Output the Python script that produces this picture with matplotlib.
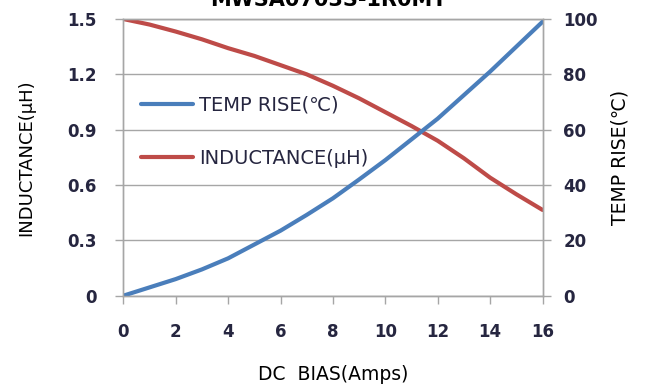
import numpy as np
import matplotlib
matplotlib.use('Agg')
import matplotlib.pyplot as plt

# data
dc_bias = [0, 1, 2, 3, 4, 5, 6, 7, 8, 9, 10, 11, 12, 13, 14, 15, 16]
temp_rise = [0, 3.0, 6.0, 9.5, 13.5, 18.5, 23.5, 29.2, 35.2, 42.0, 49.0,
             56.5, 64.0, 72.5, 81.0, 90.0, 99.0]
inductance = [1.5, 1.47, 1.432, 1.39, 1.342, 1.30, 1.25, 1.2, 1.138, 1.07,
              0.995, 0.92, 0.84, 0.745, 0.64, 0.55, 0.465]
x_ticks = [0, 2, 4, 6, 8, 10, 12, 14, 16]
ind_ticks = [0, 0.3, 0.6, 0.9, 1.2, 1.5]
ind_labels = ['0', '0.3', '0.6', '0.9', '1.2', '1.5']
temp_ticks = [0, 20, 40, 60, 80, 100]

blue = '#4a7ebb'
red = '#be4b48'
grid_c = '#a6a6a6'
tick_c = '#262640'

plt.rcParams['font.family'] = ['DejaVu Sans']

fig = plt.figure(figsize=(6.46, 3.88), dpi=100)
ax = fig.add_axes([0.1909, 0.2379, 0.6489, 0.7131])
ax2 = ax.twinx()

l1, = ax2.plot(dc_bias, temp_rise, color=blue, lw=3, label='TEMP RISE(\u2103)',
               solid_capstyle='round', solid_joinstyle='round')
l2, = ax.plot(dc_bias, inductance, color=red, lw=3, label='INDUCTANCE(\u03bcH)',
              solid_capstyle='round', solid_joinstyle='round')

ax.set_xlim(0, 16)
ax.set_ylim(0, 1.5)
ax2.set_ylim(0, 100)
ax.set_xticks(x_ticks)
ax.set_yticks(ind_ticks)
ax.set_yticklabels(ind_labels)
ax2.set_yticks(temp_ticks)

ax.yaxis.grid(True, color=grid_c, lw=1)
ax.set_axisbelow(True)

for a in (ax, ax2):
    for s in a.spines.values():
        s.set_color(grid_c)
        s.set_linewidth(1)
    a.tick_params(colors=grid_c, length=6, width=1, labelsize=12,
                  labelcolor=tick_c, pad=13)
ax.tick_params(axis='x', pad=14)
ax2.tick_params(axis='y', pad=9)
for lab in ax.get_xticklabels() + ax.get_yticklabels() + ax2.get_yticklabels():
    lab.set_fontweight('bold')

ax.set_xlabel('DC  BIAS(Amps)', fontsize=13.5, labelpad=17, color='black')
ax.set_ylabel('INDUCTANCE(\u03bcH)', fontsize=13, labelpad=23, color='black')
ax2.set_ylabel('TEMP RISE(\u2103)', fontsize=13.5, labelpad=9, color='black')

leg = ax.legend(handles=[l1, l2], loc='upper left', bbox_to_anchor=(0.0, 0.785),
                frameon=False, fontsize=14, handlelength=2.7, handletextpad=0.3,
                labelspacing=1.75, borderaxespad=0.5)
for t in leg.get_texts():
    t.set_color(tick_c)

# title sits mostly above the top edge, as in the original
fig.text(0.508, 0.9845, 'MWSA0703S-1R0MT', ha='center', va='baseline',
         fontsize=15, fontweight='bold')

fig.savefig('out.png', dpi=100)
